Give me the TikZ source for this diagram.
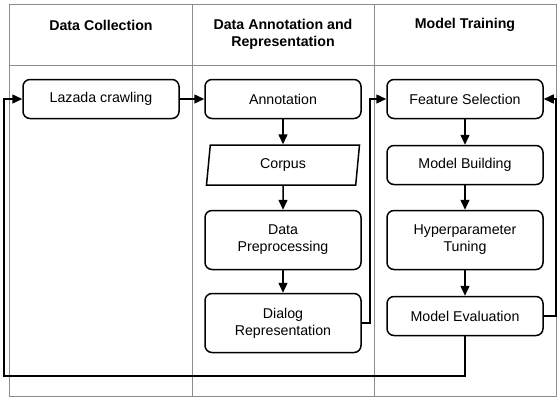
\documentclass[tikz,border=0pt]{standalone}
\usepackage{fontspec}
\setmainfont{Liberation Sans}
\usetikzlibrary{arrows.meta,shapes.geometric}

\definecolor{tablegray}{RGB}{140,140,140}

\tikzset{
    stepbox/.style={draw, line width=1.5pt, rounded corners=7pt,
        minimum width=156pt, minimum height=39pt, align=center,
        font=\fontsize{14.2}{17}\selectfont},
    databox/.style={draw, line width=1.5pt, trapezium,
        trapezium left angle=79, trapezium right angle=101,
        trapezium stretches body, minimum width=153pt, minimum height=40pt,
        font=\fontsize{14.2}{17}\selectfont},
    header/.style={align=center, font=\fontsize{14.2}{17}\selectfont\bfseries},
    flow/.style={line width=1.5pt, -{Triangle[length=10pt,width=9pt]}},
}

\begin{document}
\begin{tikzpicture}[x=1pt,y=-1pt]
    \useasboundingbox (0,0) rectangle (558,397);
    % Draw the table
    \draw[tablegray, line width=0.8pt] (9,4) rectangle (556,396);
    \draw[tablegray, line width=0.8pt] (9,65) -- (556,65);
    \draw[tablegray, line width=0.8pt] (192,4) -- (192,396);
    \draw[tablegray, line width=0.8pt] (374,4) -- (374,396);
    \node (h_1) [header] at (101,25) {Data Collection};
    \node (h_2) [header] at (283,34) {Data Annotation and\\Representation};
    \node (h_3) [header] at (465,25) {Model Training};

    % Draw the steps
    \node (lazada) [stepbox] at (101,99) {Lazada crawling};
    \node (annotation) [stepbox] at (283,99) {Annotation};
    \node (corpus) [databox] at (283,165) {Corpus};
    \node (preprocessing) [stepbox, minimum height=59pt] at (283,240) {Data\\Preprocessing};
    \node (dialog) [stepbox, minimum height=59pt] at (283,323) {Dialog\\Representation};
    \node (feature) [stepbox] at (465,99) {Feature Selection};
    \node (building) [stepbox] at (465,165) {Model Building};
    \node (tuning) [stepbox, minimum height=59pt] at (465,240) {Hyperparameter\\Tuning};
    \node (evaluation) [stepbox] at (465,316) {Model Evaluation};

    % Draw the arrows
    \draw[flow] (lazada) -- (annotation);
    \draw[flow] (annotation) -- (corpus);
    \draw[flow] (corpus) -- (preprocessing);
    \draw[flow] (preprocessing) -- (dialog);
    \draw[flow] (dialog.east) -- ++(8,0) |- (feature.west);
    \draw[flow] (feature) -- (building);
    \draw[flow] (building) -- (tuning);
    \draw[flow] (tuning) -- (evaluation);
    \draw[flow] (evaluation.east) -- ++(12,0) |- (feature.east);

    \coordinate (loop_1) at (4,376);
		% back to the start
    \draw[flow] (evaluation.south) |- (loop_1) |- (lazada.west);

\end{tikzpicture}
\end{document}
